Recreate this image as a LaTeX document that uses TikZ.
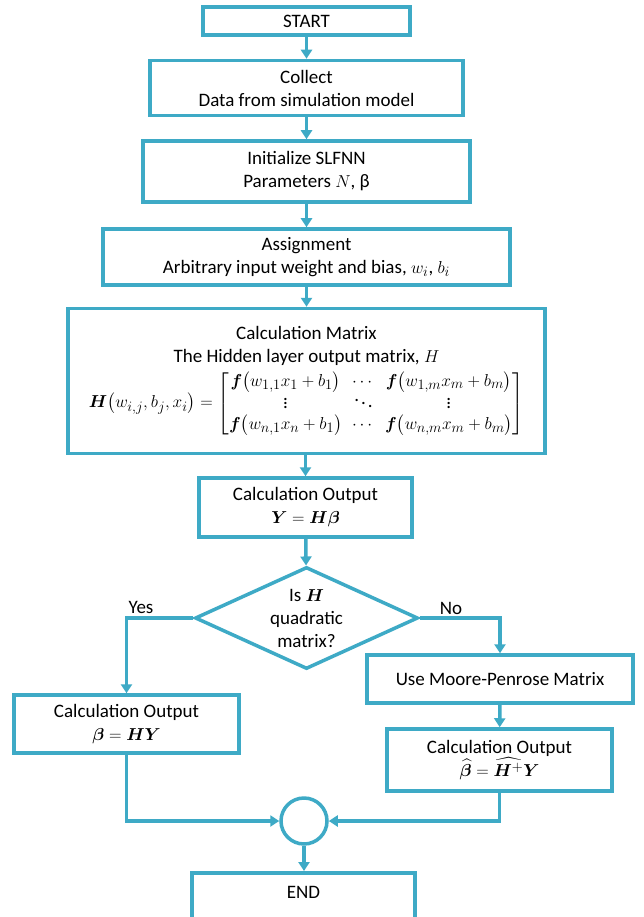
\documentclass[tikz,border=0pt]{standalone}
\usepackage{amsmath}
\usepackage{bm}
\usepackage[no-math]{fontspec}
\setmainfont{Carlito}
\usetikzlibrary{shapes.geometric,arrows.meta}
\definecolor{fc}{RGB}{62,170,198}
\begin{document}
\begin{tikzpicture}[x=1pt,y=-1pt,
  txt/.style={font=\fontsize{19}{23}\selectfont},
  box/.style={txt, draw=fc, line width=3.5pt, fill=white, align=center, inner sep=2pt},
  arr/.style={draw=fc, line width=3.5pt, -{Triangle[width=11pt,length=9pt]}}]
\clip (0,0) rectangle (643,917);
\fill[white] (0,0) rectangle (643,917);
\node[box, minimum width=207pt, minimum height=28pt] (start) at (306.5,21) {START};
\node[box, minimum width=313pt, minimum height=55pt] (collect) at (306.5,88) {Collect\\Data from simulation model};
\node[box, minimum width=327pt, minimum height=61pt] (init) at (306.5,171.5) {Initialize SLFNN\\Parameters $N$, β};
\node[box, minimum width=407pt, minimum height=56pt] (assign) at (306.5,257) {Assignment\\Arbitrary input weight and bias, $w_i$, $b_i$};
\node[box, minimum width=477pt, minimum height=145pt] (calcm) at (306.5,381) {Calculation Matrix\\The Hidden layer output matrix, $H$\\[5pt]
\mbox{\renewcommand{\arraystretch}{0.9}$\bm H\bigl(w_{i,j},b_j,x_i\bigr)=\begin{bmatrix}\bm f\bigl(w_{1,1}x_1+b_1\bigr) & \cdots & \bm f\bigl(w_{1,m}x_m+b_m\bigr)\\ \vdots & \ddots & \vdots\\ \bm f\bigl(w_{n,1}x_n+b_1\bigr) & \cdots & \bm f\bigl(w_{n,m}x_m+b_m\bigr)\end{bmatrix}$}};
\node[box, minimum width=213pt, minimum height=59pt] (calco) at (305.5,507.5) {Calculation Output\\$\bm{Y}=\bm{H\beta}$};
\node[txt, diamond, draw=fc, line width=3.5pt, aspect=2.19, minimum width=223pt, minimum height=102pt, inner sep=0pt, align=center] (dec) at (306.5,618) {Is $\bm H$\\quadratic\\matrix?};
\node[txt] (yes) at (141,607) {Yes};
\node[txt] (no) at (451,608) {No};
\node[box, minimum width=225pt, minimum height=58pt] (lb) at (126.5,724) {Calculation Output\\$\bm\beta=\bm{HY}$};
\node[box, minimum width=266pt, minimum height=48pt] (moore) at (500,679) {Use Moore-Penrose Matrix};
\node[box, minimum width=225pt, minimum height=62pt] (rb) at (499.5,760) {Calculation Output\\$\widehat{\bm\beta}=\widehat{\bm H^{+}}\bm Y$};
\node[circle, draw=fc, line width=3.5pt, fill=white, minimum size=46pt, inner sep=0pt] (circ) at (304,821) {};
\node[box, minimum width=223pt, minimum height=80pt, anchor=north] (endn) at (303.5,871) {};
\node[txt] (endt) at (303.5,892) {END};
\draw[arr] (start) -- (collect);
\draw[arr] (collect) -- (init);
\draw[arr] (init) -- (assign);
\draw[arr] (assign) -- (calcm);
\draw[arr] (calcm.south -| calco.north) -- (calco);
\draw[arr] (calco) -- (dec);
\draw[arr] (dec.west) -| (lb.north);
\draw[arr] (dec.east) -| (moore.north);
\draw[arr] (moore) -- (rb);
\draw[arr] (lb.south) |- (circ.west);
\draw[arr] (rb.south) |- (circ.east);
\draw[arr] (circ) -- (circ |- endn.north);
\end{tikzpicture}
\end{document}
